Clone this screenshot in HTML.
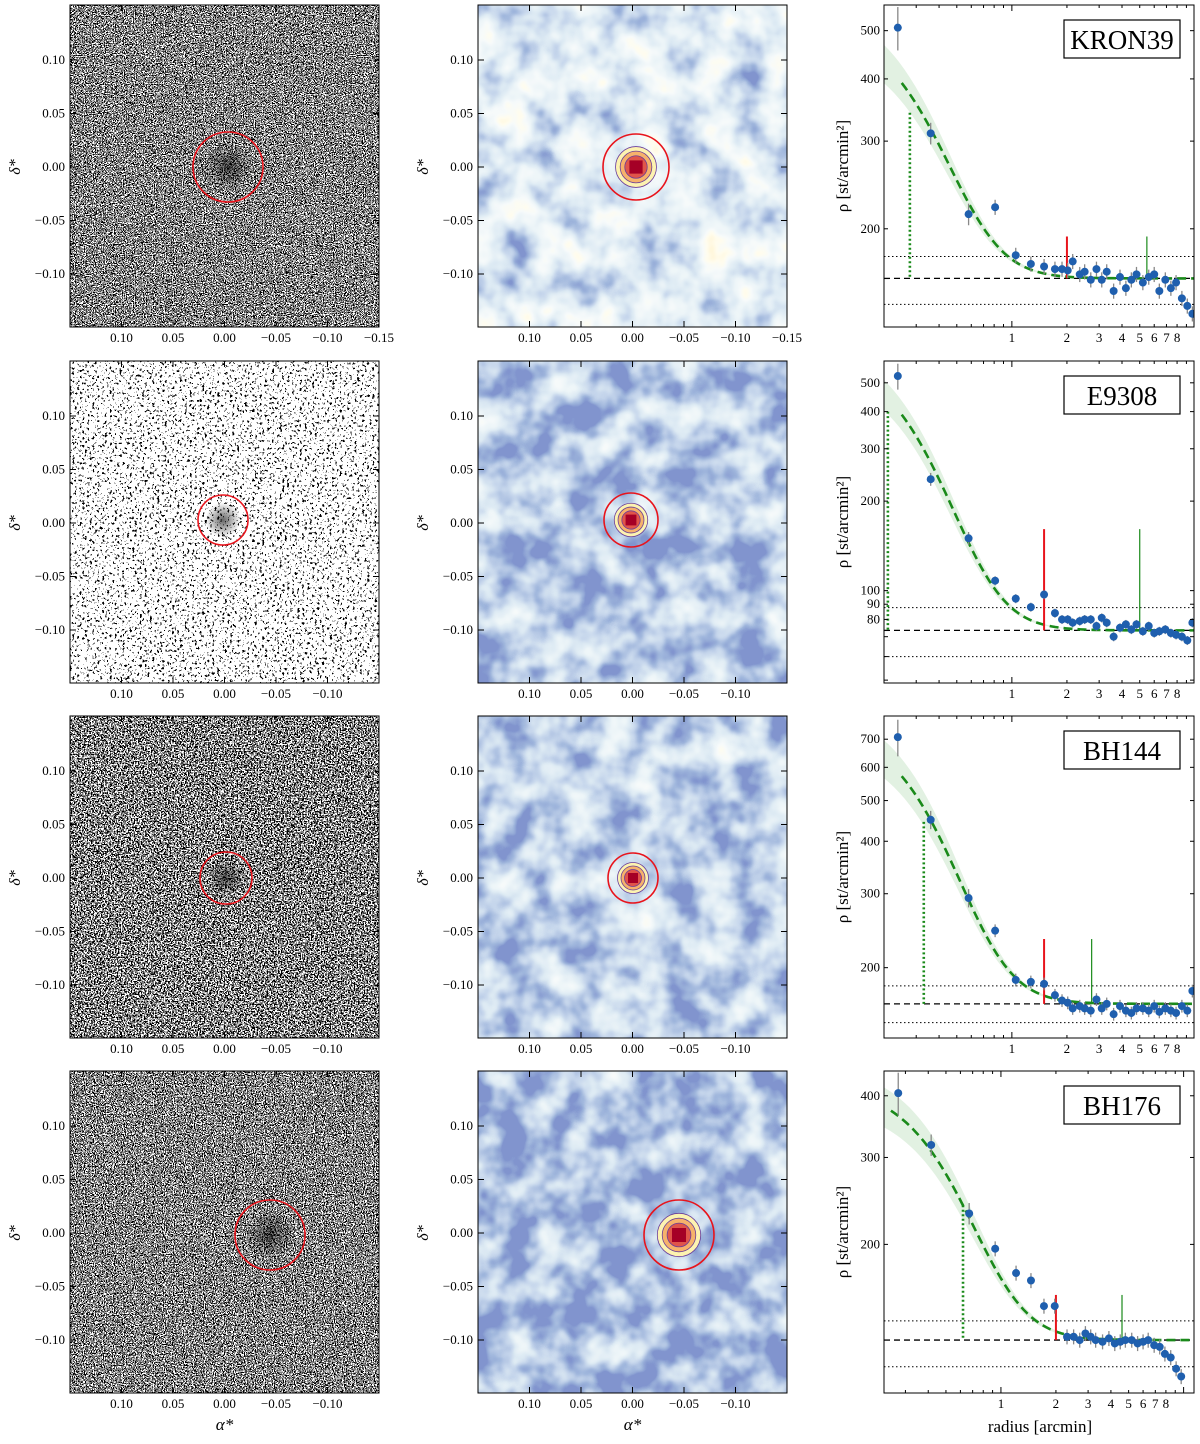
<!DOCTYPE html>
<html><head><meta charset="utf-8">
<style>
html,body{margin:0;padding:0;background:#fff;}
svg{display:block;font-family:"Liberation Serif",serif;}
</style></head>
<body>
<svg id="fig" xmlns="http://www.w3.org/2000/svg" width="1200" height="1444" viewBox="0 0 1200 1444">
<defs id="defs"></defs>
</svg>
<script>
// ---------- data (radial profiles) ----------
const tailR=[2.5,2.7,2.9,3.1,3.3,3.6,3.9,4.2,4.5,4.8,5.2,5.6,6.0,6.4,6.9,7.4,7.9,8.5,9.1,9.7];
const kronR=[0.238,0.36,0.58,0.81,1.05,1.27,1.5,1.72,1.88,2.02,2.15,2.35];
const kronRho=[507,311,214,221,177,170,168,166,166,165,172,162];
const kronTail=[164,158,166,158,164,150,160,152,158,162,156,160,162,150,158,152,156,145,140,135];
const e93R=[0.238,0.36,0.58,0.81,1.05,1.27,1.5,1.72,1.88,2.02,2.15,2.35];
const e93Rho=[527,237,150,108,94,88,97,84,80,80,78,79];
const e93Tail=[80,80,76,81,78,70,75,77,74,77,73,76,72,73,74,72,71,70,68,78];
const bh144R=[0.238,0.36,0.58,0.81,1.05,1.27,1.5,1.72,1.88,2.02,2.15,2.35];
const bh144Rho=[708,450,293,245,187,185,183,172,167,165,160,162];
const bh144Tail=[160,158,168,160,164,155,162,158,156,160,160,158,162,157,160,158,156,162,158,176];
const bh176R=[0.274,0.415,0.67,0.93,1.21,1.46,1.72,1.97,2.3];
const bh176Rho=[405,318,231,196,175,169,150,150,130];
const bh176Tail=[130,128,132,130,128,127,129,126,127,128,128,126,127,128,125,124,120,118,112,108];
const names=["KRON39","E9308","BH144","BH176"];

// ---------- layout ----------
const rowTop=[5,361,716,1071], H=322;
const cfg=[
 {yMin:127,yMax:563,xMin:0.2,xMax:9.9,yt:[200,300,400,500],R:kronR,Rho:kronRho,T:kronTail,bg:159,lo:141,hi:176,c:365,rc:0.5,red:[2.0,193],grn:[5.47,193],dot:[0.277,342]},
 {yMin:48.9,yMax:592,xMin:0.2,xMax:9.9,yt:[80,90,100,200,300,400,500],R:e93R,Rho:e93Rho,T:e93Tail,bg:73.5,lo:60,hi:87.7,c:568,rc:0.43,red:[1.5,161],grn:[5.0,161],dot:[0.21,400]},
 {yMin:136,yMax:795,xMin:0.2,xMax:9.9,yt:[200,300,400,500,600,700],R:bh144R,Rho:bh144Rho,T:bh144Tail,bg:164,lo:148,hi:181,c:609,rc:0.53,red:[1.5,234],grn:[2.73,234],dot:[0.33,445]},
 {yMin:100,yMax:449,xMin:0.229,xMax:11.4,yt:[200,300,400],R:bh176R,Rho:bh176Rho,T:bh176Tail,bg:128,lo:113,hi:140,c:298,rc:0.78,red:[2.0,158],grn:[4.6,158],dot:[0.62,240]}
];
const leftCirc=[[228,167,35],[223,520,25],[226,878,26],[270,1235,35]];
const midCirc=[[636,167,33],[631,520,27],[633,878,25],[679,1235,35]];

const NS="http://www.w3.org/2000/svg";
const svg=document.getElementById("fig"), defs=document.getElementById("defs");
function mk(tag,attrs,parent){const e=document.createElementNS(NS,tag);for(const k in attrs)e.setAttribute(k,attrs[k]);(parent||svg).appendChild(e);return e;}
function txt(s,x,y,attrs,parent){const t=mk("text",Object.assign({x:x,y:y,"font-size":13},attrs||{}),parent);t.textContent=s;return t;}

// ---------- filters ----------
function noiseFilter(id,freq,seed,table){
 const f=mk("filter",{id:id,x:0,y:0,width:"100%",height:"100%"},defs);
 mk("feTurbulence",{type:"fractalNoise",baseFrequency:freq,numOctaves:3,seed:seed},f);
 mk("feColorMatrix",{type:"matrix",values:"0.5 0.5 0 0 0 0.5 0.5 0 0 0 0.5 0.5 0 0 0 0 0 0 0 1"},f);
 const ct=mk("feComponentTransfer",{},f);
 ["feFuncR","feFuncG","feFuncB"].forEach(n=>mk(n,{type:"discrete",tableValues:table},ct));
}
function mapFilter(id,seed,off){
 const f=mk("filter",{id:id,x:0,y:0,width:"100%",height:"100%"},defs);
 mk("feTurbulence",{type:"fractalNoise",baseFrequency:0.03,numOctaves:3,seed:seed},f);
 mk("feColorMatrix",{type:"matrix",values:`1.3 0 0 0 ${off} 1.3 0 0 0 ${off} 1.3 0 0 0 ${off} 0 0 0 0 1`},f);
 const ct=mk("feComponentTransfer",{},f);
 mk("feFuncR",{type:"table",tableValues:"0.22 0.35 0.55 0.72 0.84 0.93 1 1"},ct);
 mk("feFuncG",{type:"table",tableValues:"0.3 0.47 0.66 0.82 0.91 0.96 0.98 0.93"},ct);
 mk("feFuncB",{type:"table",tableValues:"0.62 0.72 0.83 0.9 0.94 0.96 0.86 0.72"},ct);
}
const noiseTables=["0 0 1 1","0 0 1 1 1","0 0 1 1","0 0 1 1"];
const noiseFreq=[0.9,0.4,0.7,0.9];
const mapOff=[-0.18,-0.4,-0.36,-0.46];
for(let i=0;i<4;i++){noiseFilter("nz"+i,noiseFreq[i],11+i*7,noiseTables[i]);mapFilter("mp"+i,3+i*5,mapOff[i]);}
const rg=mk("radialGradient",{id:"blob"},defs);
mk("stop",{offset:"0","stop-color":"#000","stop-opacity":0.6},rg);
mk("stop",{offset:"1","stop-color":"#000","stop-opacity":0},rg);

// ---------- linear image panels ----------
function imagePanel(r,x0,kind){
 const top=rowTop[r], W=309;
 const g=mk("g",{});
 
 
 mk("rect",{x:x0,y:top,width:W,height:H,filter:`url(#${kind}${r})`},g);
 const c=(kind==="nz"?leftCirc:midCirc)[r];
 if(kind==="nz"){
  mk("circle",{cx:c[0],cy:c[1],r:c[2]*0.7,fill:"url(#blob)"},g);
 }else{
  const rr=c[2];
  mk("circle",{cx:c[0],cy:c[1],r:rr*0.62,fill:"#fdf3b0",stroke:"#6a3d9a","stroke-width":0.8},g);
  mk("circle",{cx:c[0],cy:c[1],r:rr*0.48,fill:"#f6b26b",stroke:"#6a3d9a","stroke-width":0.8},g);
  mk("circle",{cx:c[0],cy:c[1],r:rr*0.34,fill:"#e0554a",stroke:"#6a3d9a","stroke-width":0.8},g);
  mk("rect",{x:c[0]-rr*0.2,y:c[1]-rr*0.2,width:rr*0.4,height:rr*0.4,fill:"#a50026"},g);
 }
 const circ=mk("circle",{cx:c[0],cy:c[1],r:c[2],fill:"none",stroke:"#e8141c","stroke-width":1.6},g);
 
 
 mk("rect",{x:x0,y:top,width:W,height:H,fill:"none",stroke:"#000","stroke-width":1},g);
 const xs=[0.10,0.05,0.00,-0.05,-0.10,-0.15];
 const xpx=v=>x0+(0.15-v)/0.30*W;
 xs.forEach(v=>{
  const px=xpx(v); if(px>x0+W+1) return;
  mk("line",{x1:px,y1:top+H,x2:px,y2:top+H-6,stroke:"#000"},g);
  mk("line",{x1:px,y1:top,x2:px,y2:top+6,stroke:"#000"},g);
  if(!(v===-0.15 && r>0)) txt(v.toFixed(2).replace("-","−"),px,top+H+15,{"text-anchor":"middle"},g);
 });
 [0.10,0.05,0,-0.05,-0.10].forEach(v=>{
  const py=top+162-v/0.05*53.5;
  mk("line",{x1:x0,y1:py,x2:x0+6,y2:py,stroke:"#000"},g);
  mk("line",{x1:x0+W,y1:py,x2:x0+W-6,y2:py,stroke:"#000"},g);
  txt(v.toFixed(2).replace("-","−"),x0-5,py+4,{"text-anchor":"end"},g);
 });
 const yl=txt("δ*",x0-50,top+162,{"font-size":16,"font-style":"italic","text-anchor":"middle",transform:`rotate(-90 ${x0-50} ${top+162})`},g);
 
 
 if(r===3){
  const xl=txt("α*",x0+W/2,1430,{"font-size":17,"font-style":"italic","text-anchor":"middle"},g);
  
  
 }
}
for(let r=0;r<4;r++){imagePanel(r,70,"nz");imagePanel(r,478,"mp");}

// ---------- profile panels ----------
const PX0=884,PW=310;
function profile(r){
 const C=cfg[r], top=rowTop[r];
 const g=mk("g",{});
 
 
 const sx=v=>PX0+(Math.log10(v)-Math.log10(C.xMin))/(Math.log10(C.xMax)-Math.log10(C.xMin))*PW;
 const sy=v=>top+H-(Math.log10(v)-Math.log10(C.yMin))/(Math.log10(C.yMax)-Math.log10(C.yMin))*H;
 const model=x=>C.bg+C.c/Math.pow(1+(x/C.rc)*(x/C.rc),2);
 const cp=mk("clipPath",{id:"cp"+r},defs);
 mk("rect",{x:PX0,y:top,width:PW,height:H},cp);
 const inner=mk("g",{"clip-path":`url(#cp${r})`},g);
 let up=[],dn=[];
 for(let i=0;i<=60;i++){const x=C.xMin*Math.pow(C.xMax/C.xMin,i/60);const m=model(x),d=(m-C.bg)*0.14;up.push(`${sx(x)},${sy(m+d)}`);dn.unshift(`${sx(x)},${sy(m-d)}`);}
 const band=mk("polygon",{points:up.concat(dn).join(" "),fill:"#cfe8cf","fill-opacity":0.6},inner);
 
 
 [[C.bg,"6,4"],[C.lo,"1.5,2.5"],[C.hi,"1.5,2.5"]].forEach(([v,d],k)=>{
  const l=mk("line",{x1:PX0,x2:PX0+PW,y1:sy(v),y2:sy(v),stroke:"#000","stroke-width":k?1:1.3,"stroke-dasharray":d},inner);
  
  
 });
 let pts=[];
 for(let i=0;i<=80;i++){const x=0.25*Math.pow(C.xMax/0.25,i/80);pts.push(`${sx(x)},${sy(model(x))}`);}
 const fit=mk("polyline",{points:pts.join(" "),fill:"none",stroke:"#1a8a1a","stroke-width":2.6,"stroke-dasharray":"9,5"},inner);
 
 
 const dl=mk("line",{x1:sx(C.dot[0]),x2:sx(C.dot[0]),y1:sy(C.dot[1]),y2:sy(C.bg),stroke:"#1a8a1a","stroke-width":2.6,"stroke-dasharray":"2,2.5"},inner);
 
 
 const rl=mk("line",{x1:sx(C.red[0]),x2:sx(C.red[0]),y1:sy(C.red[1]),y2:sy(C.bg),stroke:"#e8141c","stroke-width":2},inner);
 
 
 const gl=mk("line",{x1:sx(C.grn[0]),x2:sx(C.grn[0]),y1:sy(C.grn[1]),y2:sy(C.bg),stroke:"#1a8a1a","stroke-width":1.2},inner);
 
 
 const R=C.R.concat(tailR), V=C.Rho.concat(C.T);
 R.forEach((x,i)=>{
  const v=V[i], e=v*(i===0?0.1:i<3?0.05:0.035);
  mk("line",{x1:sx(x),x2:sx(x),y1:sy(v-e),y2:sy(v+e),stroke:"#888","stroke-width":1.3},inner);
  const p=mk("circle",{cx:sx(x),cy:sy(v),r:4,fill:"#1f5fae"},inner);
  
  
 });
 mk("rect",{x:PX0,y:top,width:PW,height:H,fill:"none",stroke:"#000"},g);
 for(let d=-1;d<=1;d++)for(let m=1;m<=9;m++){
  const v=m*Math.pow(10,d); if(v<C.xMin||v>C.xMax) continue;
  const px=sx(v), len=m===1?6:3;
  mk("line",{x1:px,x2:px,y1:top+H,y2:top+H-len,stroke:"#000"},g);
  mk("line",{x1:px,x2:px,y1:top,y2:top+len,stroke:"#000"},g);
  if(d===0 && m<=8) txt(String(m),px,top+H+15,{"text-anchor":"middle"},g);
 }
 for(let d=1;d<=2;d++)for(let m=1;m<=9;m++){
  const v=m*Math.pow(10,d); if(v<C.yMin||v>C.yMax) continue;
  const py=sy(v);
  mk("line",{x1:PX0,x2:PX0+4,y1:py,y2:py,stroke:"#000"},g);
  mk("line",{x1:PX0+PW,x2:PX0+PW-4,y1:py,y2:py,stroke:"#000"},g);
 }
 C.yt.forEach(v=>txt(String(v),PX0-4,sy(v)+4,{"text-anchor":"end"},g));
 const yl=txt("ρ [st/arcmin²]",848,top+H/2,{"font-size":17,"text-anchor":"middle",transform:`rotate(-90 848 ${top+H/2})`},g);
 
 
 const bx=mk("rect",{x:1064,y:top+15,width:116,height:38,fill:"#fff",stroke:"#000","stroke-width":1.2},g);
 
 
 const nt=txt(names[r],1122,top+44,{"font-size":27,"text-anchor":"middle"},g);
 
 
 if(r===3){
  const xl=txt("radius [arcmin]",1040,1432,{"font-size":17,"text-anchor":"middle"},g);
  
  
 }
}
for(let r=0;r<4;r++) profile(r);
</script>
</body></html>
